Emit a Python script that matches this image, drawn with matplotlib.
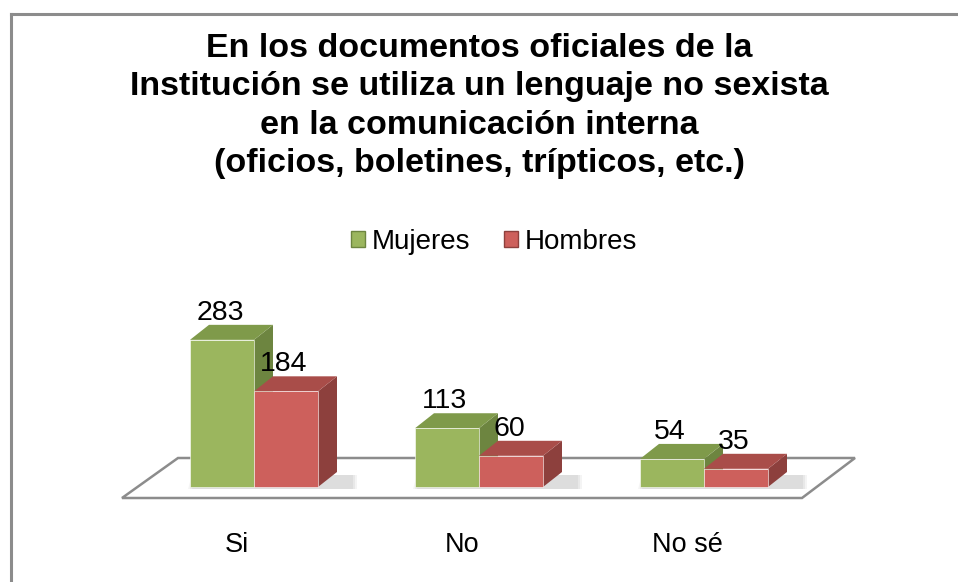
import matplotlib
matplotlib.use("Agg")
import matplotlib.pyplot as plt
from matplotlib.patches import Polygon, Rectangle
from matplotlib.lines import Line2D
import numpy as np

plt.rcParams['font.family'] = ['Liberation Sans', 'DejaVu Sans']

categories = ["Si", "No", "No sé"]
series_names = ["Mujeres", "Hombres"]
mujeres = [283, 113, 54]
hombres = [184, 60, 35]
title_lines = ["En los documentos oficiales de la",
               "Institución se utiliza un lenguaje no sexista",
               "en la comunicación interna",
               "(oficios, boletines, trípticos, etc.)"]

W, H = 958, 582
fig = plt.figure(figsize=(W / 100, H / 100), dpi=100)
fig.patch.set_facecolor("white")

px_per_cat = 225.0
px_per_val = 0.52
x0_px = 254.0
base_px = 487.0
ax = fig.add_axes([0, 0, 1, 1])
ax.set_xlim(-x0_px / px_per_cat, (W - x0_px) / px_per_cat)
ax.set_ylim(-(H - base_px) / px_per_val, base_px / px_per_val)
ax.axis("off")

bar_w = 64 / px_per_cat
ddx = 19 / px_per_cat
ddy = 15 / px_per_val

def px(xp, yp):
    return (xp / W, 1 - yp / H)

floor = Polygon([px(122, 498), px(802, 498), px(855, 458), px(178, 458)],
                closed=True, transform=fig.transFigure, facecolor="white",
                edgecolor="#8c8c8c", linewidth=1.8, zorder=1)
ax.add_patch(floor)

colors = {
    "Mujeres": dict(front="#9bb65e", top="#7f9a4a", side="#6d8540"),
    "Hombres": dict(front="#cd605c", top="#a94d49", side="#8d403d"),
}

x = np.arange(len(categories))
offsets = [-bar_w / 2, bar_w / 2]

# soft shadows behind each group
for xi in x:
    for k, a in enumerate([0.25, 0.4, 0.6]):
        grow = (2 - k) * 0.01
        ax.add_patch(Polygon([(xi - bar_w + 0.01 - grow, -3 - grow * 50),
                              (xi + bar_w + ddx + 0.07 + grow, -3 - grow * 50),
                              (xi + bar_w + ddx + 0.07 + grow, ddy - 6),
                              (xi - bar_w + 0.03 - grow, ddy - 6)],
                             closed=True, facecolor="#d6d6d6", edgecolor="none",
                             zorder=2, alpha=a))

for si, (name, vals) in enumerate(zip(series_names, [mujeres, hombres])):
    c = colors[name]
    xs = x + offsets[si]
    for xi, v in zip(xs, vals):
        l, r = xi - bar_w / 2, xi + bar_w / 2
        ax.add_patch(Polygon([(r, 0), (r + ddx, ddy), (r + ddx, v + ddy), (r, v)],
                             closed=True, facecolor=c["side"], edgecolor="none",
                             zorder=3 + si))
        ax.add_patch(Polygon([(l, v), (r, v), (r + ddx, v + ddy), (l + ddx, v + ddy)],
                             closed=True, facecolor=c["top"], edgecolor="none",
                             zorder=3 + si))
    ax.bar(xs, vals, width=bar_w, color=c["front"], edgecolor="#ffffff",
           linewidth=0.4, zorder=3.5 + si)
    for xi, v in zip(xs, vals):
        ax.text(xi - 2 / px_per_cat, v + ddy - 2, str(v), ha="center", va="bottom",
                fontsize=20.5, color="black", zorder=10)

for xi, cat in zip(x, categories):
    ax.text(xi - 17 / px_per_cat, -(545 - base_px) / px_per_val, cat,
            ha="center", va="center", fontsize=19.5, color="black")

title_y = [45, 83.5, 122, 160]
for line, yp in zip(title_lines, title_y):
    fig.text(0.5, 1 - yp / H, line, ha="center", va="center_baseline", fontsize=24.5,
             fontweight="bold")

handles = [Rectangle((0, 0), 1, 1, facecolor=colors[n]["front"], edgecolor=colors[n]["side"])
           for n in series_names]
fig.legend(handles, series_names, loc="center", bbox_to_anchor=(494 / W, 1 - 242 / H),
           ncol=2, frameon=False, fontsize=20, handlelength=0.5, handleheight=0.5,
           handletextpad=0.25, columnspacing=1.2)

fig.add_artist(Line2D([11 / W, 1], [1 - 14 / H, 1 - 14 / H], transform=fig.transFigure,
                      color="#8c8c8c", linewidth=2.2))
fig.add_artist(Line2D([11 / W, 11 / W], [0, 1 - 14 / H], transform=fig.transFigure,
                      color="#8c8c8c", linewidth=2.2))

fig.savefig("out.png", dpi=100, facecolor="white")
